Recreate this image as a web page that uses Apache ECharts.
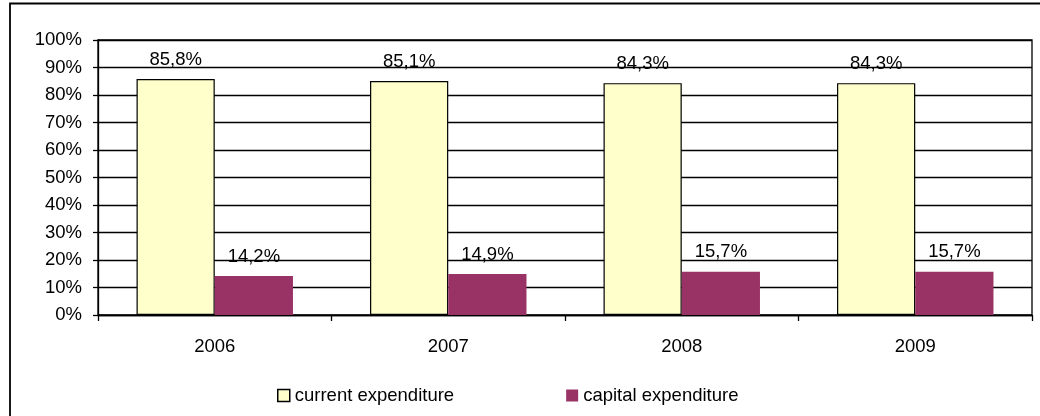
<!DOCTYPE html>
<html>
<head>
<meta charset="utf-8">
<style>
  html, body { margin: 0; padding: 0; background: #ffffff; }
  #chart { width: 1040px; height: 416px; }
</style>
<script src="https://cdn.jsdelivr.net/npm/echarts@6/dist/echarts.min.js"></script>
</head>
<body>
<div id="chart"></div>
<script>
// Expenditure structure by year (share of total, %)
const years = ['2006', '2007', '2008', '2009'];
const currentExpenditure = [85.8, 85.1, 84.3, 84.3];
const capitalExpenditure = [14.2, 14.9, 15.7, 15.7];
const seriesNames = ['current expenditure', 'capital expenditure'];

const FONT = '"Liberation Sans", Arial, sans-serif';
const FS = 18.5;
const fmtPct = v => v.toFixed(1).replace('.', ',') + '%';

const chart = echarts.init(document.getElementById('chart'), null, { renderer: 'canvas' });

const labelStyle = {
  show: true,
  position: 'top',
  distance: 10,
  color: '#000',
  fontFamily: FONT,
  fontSize: FS,
  formatter: p => fmtPct(p.value)
};

chart.setOption({
  animation: false,
  backgroundColor: '#ffffff',
  graphic: [{
    type: 'rect',
    shape: { x: 10, y: 3.5, width: 1100, height: 500 },
    style: { fill: 'none', stroke: '#000', lineWidth: 1.8 },
    silent: true,
    z: -1
  }],
  grid: {
    left: 98, right: 8, top: 40, bottom: 101,
    show: true, borderColor: '#000', borderWidth: 1.3,
    backgroundColor: 'transparent'
  },
  legend: {
    left: 272, top: 381,
    icon: 'rect',
    itemWidth: 12, itemHeight: 12, itemGap: 112,
    textStyle: { fontFamily: FONT, fontSize: FS, color: '#000' },
    data: [
      { name: seriesNames[0], itemStyle: { color: '#ffffcc', borderColor: '#000', borderWidth: 1.5 } },
      { name: seriesNames[1], itemStyle: { color: '#993366', borderWidth: 0 } }
    ]
  },
  xAxis: {
    type: 'category',
    data: years,
    boundaryGap: true,
    axisLine: { lineStyle: { color: '#000', width: 1.3 } },
    axisTick: { show: true, alignWithLabel: false, length: 6, lineStyle: { color: '#000', width: 1.3 } },
    axisLabel: { color: '#000', fontFamily: FONT, fontSize: FS, margin: 22 }
  },
  yAxis: {
    type: 'value',
    min: 0, max: 100, interval: 10,
    axisLine: { show: true, lineStyle: { color: '#000', width: 1.3 } },
    axisTick: { show: true, length: 5, lineStyle: { color: '#000', width: 1.3 } },
    splitLine: { show: true, lineStyle: { color: '#000', width: 1.3 } },
    axisLabel: { color: '#000', fontFamily: FONT, fontSize: FS, margin: 16, formatter: '{value}%' }
  },
  series: [
    {
      name: seriesNames[0],
      type: 'bar',
      data: currentExpenditure,
      barGap: '0%',
      barCategoryGap: '33%',
      itemStyle: { color: '#ffffcc', borderColor: '#000', borderWidth: 1.2 },
      label: labelStyle
    },
    {
      name: seriesNames[1],
      type: 'bar',
      data: capitalExpenditure,
      itemStyle: { color: '#993366' },
      label: labelStyle
    }
  ]
});
</script>
</body>
</html>
